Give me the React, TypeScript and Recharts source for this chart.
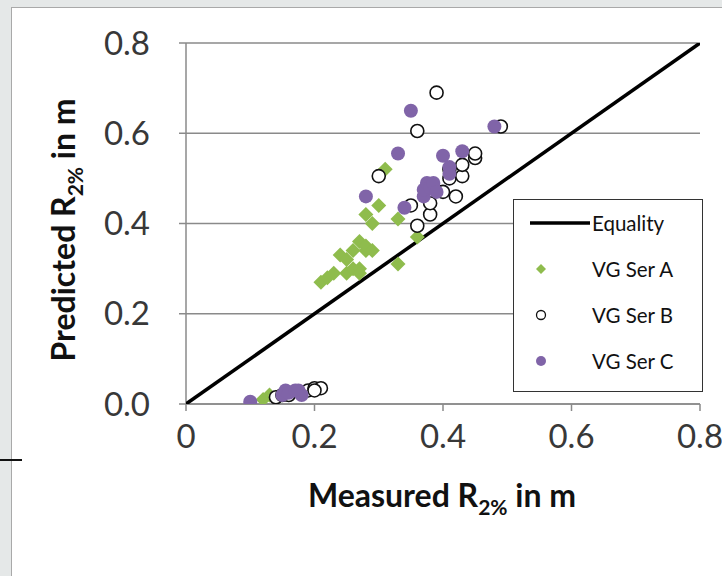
import React from 'react';
import { ScatterChart, Scatter, XAxis, YAxis, CartesianGrid } from 'recharts';

const xTicks = [0, 0.2, 0.4, 0.6, 0.8];
const yTicks = [0, 0.2, 0.4, 0.6, 0.8];

const equality = [
  { x: 0, y: 0 },
  { x: 0.8, y: 0.8 },
];

const serA: [number, number][] = [
  [0.12, 0.01], [0.13, 0.02], [0.14, 0.015],
  [0.21, 0.27], [0.22, 0.28], [0.23, 0.29], [0.24, 0.33], [0.25, 0.29], [0.25, 0.32],
  [0.26, 0.3], [0.26, 0.34], [0.27, 0.36], [0.27, 0.3], [0.27, 0.29], [0.28, 0.34],
  [0.28, 0.35], [0.28, 0.42], [0.29, 0.4], [0.29, 0.34], [0.3, 0.44], [0.31, 0.52],
  [0.33, 0.41], [0.33, 0.31], [0.36, 0.37],
];

const serB: [number, number][] = [
  [0.14, 0.015], [0.15, 0.02], [0.16, 0.02], [0.18, 0.025], [0.19, 0.03], [0.2, 0.035],
  [0.21, 0.035], [0.2, 0.03],
  [0.3, 0.505], [0.36, 0.605], [0.39, 0.69], [0.49, 0.615], [0.35, 0.44], [0.36, 0.395],
  [0.38, 0.42], [0.38, 0.445], [0.4, 0.47], [0.42, 0.46], [0.41, 0.5], [0.41, 0.52],
  [0.43, 0.505], [0.43, 0.53], [0.45, 0.545], [0.45, 0.555],
];

const serC: [number, number][] = [
  [0.1, 0.005], [0.15, 0.02], [0.155, 0.03], [0.16, 0.025], [0.17, 0.03], [0.18, 0.02],
  [0.175, 0.03],
  [0.28, 0.46], [0.33, 0.555], [0.35, 0.65], [0.34, 0.435], [0.37, 0.46], [0.37, 0.475],
  [0.375, 0.49], [0.38, 0.48], [0.385, 0.49], [0.39, 0.47], [0.4, 0.55], [0.41, 0.525],
  [0.41, 0.51], [0.43, 0.56], [0.48, 0.615],
];

const toPts = (arr: [number, number][]) => arr.map(([x, y]) => ({ x, y }));

const GREEN = '#8fbc4d';
const PURPLE = '#8064a8';
const FONT = 'Lato, "Liberation Sans", sans-serif';

const Diamond = (props: any) => {
  const { cx, cy } = props;
  const r = 7.5;
  return <polygon points={`${cx},${cy - r} ${cx + r},${cy} ${cx},${cy + r} ${cx - r},${cy}`} fill={GREEN} />;
};
const OpenCircle = (props: any) => (
  <circle cx={props.cx} cy={props.cy} r={6.5} fill="#fff" stroke="#111" strokeWidth={1.6} />
);
const FilledCircle = (props: any) => (
  <circle cx={props.cx} cy={props.cy} r={7} fill={PURPLE} />
);
const NoShape = () => null;

const XTitle = () => (
  <text x={442} y={507} textAnchor="middle" fontFamily={FONT} fontWeight="bold" fontSize={32} fill="#111">
    Measured R<tspan fontSize={21} dy={8}>2%</tspan>
    <tspan dy={-8}> in m</tspan>
  </text>
);

const YTitle = () => (
  <text x={0} y={0} transform="translate(75,230) rotate(-90)" textAnchor="middle" fontFamily={FONT} fontWeight="bold" fontSize={32} fill="#111">
    Predicted R<tspan fontSize={21} dy={8}>2%</tspan>
    <tspan dy={-8}> in m</tspan>
  </text>
);

const LegendBox = () => {
  const rows = [
    { name: 'Equality', kind: 'line' },
    { name: 'VG Ser A', kind: 'diamond' },
    { name: 'VG Ser B', kind: 'open' },
    { name: 'VG Ser C', kind: 'filled' },
  ];
  return (
    <div
      style={{
        position: 'absolute', left: 513, top: 199, width: 188, height: 191,
        background: '#fff', border: '1.5px solid #333', fontFamily: FONT,
      }}
    >
      {rows.map((r, i) => (
        <div key={r.name} style={{ position: 'absolute', left: 0, top: 9 + i * 46, height: 28, width: 188, display: 'flex', alignItems: 'center' }}>
          <svg width={78} height={28} style={{ display: 'block' }}>
            {r.kind === 'line' && <line x1={16} y1={14} x2={76} y2={14} stroke="#000" strokeWidth={3.5} />}
            {r.kind === 'diamond' && <polygon points="27,9 32,14 27,19 22,14" fill={GREEN} />}
            {r.kind === 'open' && <circle cx={27} cy={14} r={4.5} fill="#fff" stroke="#111" strokeWidth={1.3} />}
            {r.kind === 'filled' && <circle cx={27} cy={14} r={5} fill={PURPLE} />}
          </svg>
          <span style={{ fontSize: 20.5, color: '#111', whiteSpace: 'nowrap' }}>{r.name}</span>
        </div>
      ))}
    </div>
  );
};

export default function App() {
  return (
    <div style={{ position: 'absolute', left: 0, top: 0, width: 722, height: 576, background: '#e5e8e8', overflow: 'hidden' }}>
      <div style={{ position: 'absolute', left: 11, top: 7, width: 720, height: 580, background: '#fff', borderLeft: '1.5px solid #a9a9a9', borderTop: '1.5px solid #a9a9a9' }} />
      <div style={{ position: 'absolute', left: 0, top: 459, width: 22, height: 2, background: '#111' }} />
      <div style={{ position: 'absolute', left: 0, top: 0 }}>
        <ScatterChart width={722} height={576} margin={{ top: 43, right: 22, bottom: 112, left: 126 }}>
          <CartesianGrid vertical={false} stroke="#8a8a8a" strokeWidth={1.5} />
          <XAxis
            type="number"
            dataKey="x"
            domain={[0, 0.8]}
            ticks={xTicks}
            allowDataOverflow
            height={60}
            stroke="#8a8a8a"
            strokeWidth={1.5}
            tickSize={7}
            tickMargin={14}
            tick={{ fill: '#383838', fontSize: 33, fontFamily: FONT }}
            tickFormatter={(v: number) => (v === 0 ? '0' : String(v))}
          />
          <YAxis
            type="number"
            dataKey="y"
            domain={[0, 0.8]}
            ticks={yTicks}
            allowDataOverflow
            width={60}
            stroke="#8a8a8a"
            strokeWidth={1.5}
            tickSize={7}
            tickMargin={29}
            tick={{ fill: '#383838', fontSize: 33, fontFamily: FONT }}
            tickFormatter={(v: number) => v.toFixed(1)}
          />
          <Scatter data={equality} line={{ stroke: '#000', strokeWidth: 3.5 }} shape={NoShape} isAnimationActive={false} />
          <Scatter data={toPts(serA)} shape={Diamond} isAnimationActive={false} />
          <Scatter data={toPts(serB)} shape={OpenCircle} isAnimationActive={false} />
          <Scatter data={toPts(serC)} shape={FilledCircle} isAnimationActive={false} />
        </ScatterChart>
      </div>
      <svg width={722} height={576} style={{ position: 'absolute', left: 0, top: 0, pointerEvents: 'none' }}>
        <XTitle />
        <YTitle />
      </svg>
      <LegendBox />
    </div>
  );
}
